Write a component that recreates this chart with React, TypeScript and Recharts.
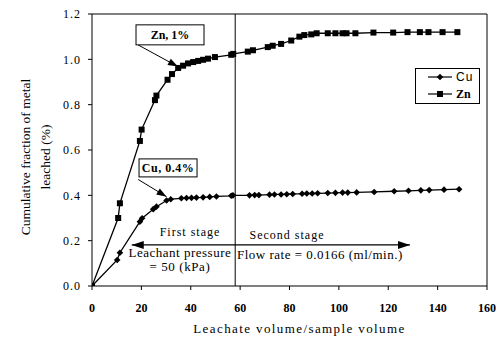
import React from 'react';
import {
  LineChart, Line, XAxis, YAxis, ReferenceLine, ReferenceDot, Legend,
} from 'recharts';

const FONT = '"Liberation Serif", "Times New Roman", serif';

const xTicks = [0, 20, 40, 60, 80, 100, 120, 140, 160];
const yTicks = [0, 0.2, 0.4, 0.6, 0.8, 1.0, 1.2];

const cuX = [0, 10.2, 11.3, 19.4, 20.3, 24.8, 26.1, 30.2, 31.9, 36.2, 38.3, 40.3, 42.3, 45, 47.7, 50.4, 56.4, 57.1, 63.8, 65.9, 67.6, 71.9, 73.9, 76.6, 78.9, 81.3, 85.1, 87, 89.2, 91.4, 95.5, 98.6, 101.5, 103.6, 107.2, 114.3, 122.4, 128.2, 133.2, 136.6, 142.6, 148.7];
const cuY = [0, 0.115, 0.147, 0.284, 0.299, 0.339, 0.35, 0.377, 0.383, 0.387, 0.388, 0.389, 0.39, 0.391, 0.393, 0.395, 0.398, 0.4, 0.4, 0.401, 0.401, 0.403, 0.404, 0.404, 0.405, 0.406, 0.407, 0.408, 0.408, 0.409, 0.41, 0.411, 0.412, 0.412, 0.413, 0.415, 0.418, 0.42, 0.422, 0.423, 0.425, 0.427];

const znX = [0, 10.6, 11.3, 19.4, 20.1, 25.5, 26.1, 30.6, 32.4, 34.9, 36.9, 38.9, 41, 43, 45, 47, 49.8, 56.4, 57.2, 63.1, 65.2, 71.2, 73.2, 76.6, 80.7, 84, 86, 88.8, 91, 95.5, 98.6, 101.5, 103.1, 106.7, 114, 122, 127.8, 132.8, 136.3, 142, 148];
const znY = [0, 0.3, 0.365, 0.64, 0.69, 0.82, 0.84, 0.91, 0.935, 0.962, 0.972, 0.982, 0.988, 0.993, 0.998, 1.003, 1.01, 1.02, 1.024, 1.034, 1.04, 1.054, 1.06, 1.068, 1.083, 1.1, 1.107, 1.11, 1.115, 1.115, 1.115, 1.115, 1.115, 1.115, 1.118, 1.118, 1.12, 1.12, 1.12, 1.12, 1.12];

const cuData = cuX.map((x, i) => ({ x, y: cuY[i] }));
const znData = znX.map((x, i) => ({ x, y: znY[i] }));

const stageLineX = 58;

const Diamond = (props: any) => {
  const { cx, cy } = props;
  if (cx == null || cy == null) return null;
  const r = 3.3;
  return <polygon points={`${cx},${cy - r} ${cx + r},${cy} ${cx},${cy + r} ${cx - r},${cy}`} fill="#000" />;
};

const Square = (props: any) => {
  const { cx, cy } = props;
  if (cx == null || cy == null) return null;
  return <rect x={cx - 3} y={cy - 3} width={6} height={6} fill="#000" />;
};

const arrowHead = (x1: number, y1: number, x2: number, y2: number, len = 10, half = 3.5) => {
  const a = Math.atan2(y2 - y1, x2 - x1);
  const bx = x2 - len * Math.cos(a);
  const by = y2 - len * Math.sin(a);
  const px = -Math.sin(a) * half;
  const py = Math.cos(a) * half;
  return `${x2},${y2} ${bx + px},${by + py} ${bx - px},${by - py}`;
};

const ArrowShape = (props: any) => {
  const { x1, y1, x2, y2 } = props;
  if ([x1, y1, x2, y2].some((v) => v == null || isNaN(v))) return null;
  return (
    <g>
      <line x1={x1} y1={y1} x2={x2} y2={y2} stroke="#000" strokeWidth={1} />
      <polygon points={arrowHead(x1, y1, x2, y2)} fill="#000" />
    </g>
  );
};

const DoubleArrowShape = (props: any) => {
  const { x1, y1, x2, y2 } = props;
  if ([x1, y1, x2, y2].some((v) => v == null || isNaN(v))) return null;
  return (
    <g>
      <line x1={x1} y1={y1} x2={x2} y2={y2} stroke="#000" strokeWidth={1.2} />
      <polygon points={arrowHead(x1, y1, x2, y2, 12, 4)} fill="#000" />
      <polygon points={arrowHead(x2, y2, x1, y1, 12, 4)} fill="#000" />
    </g>
  );
};

const boxLabel = (text: string, w: number, h: number, spacing = 0) => (props: any) => {
  const { cx, cy } = props;
  if (cx == null || cy == null) return null;
  return (
    <g>
      <rect x={cx - w / 2} y={cy - h / 2} width={w} height={h} fill="#fff" stroke="#000" strokeWidth={1} />
      <text x={cx} y={cy} textAnchor="middle" dominantBaseline="central" fontFamily={FONT}
        fontSize={12} fontWeight="bold" letterSpacing={spacing} fill="#000">{text}</text>
    </g>
  );
};

const textLabel = (text: string, opts: { bold?: boolean; spacing?: number; size?: number } = {}) => (props: any) => {
  const { cx, cy } = props;
  if (cx == null || cy == null) return null;
  return (
    <text x={cx} y={cy} textAnchor="middle" dominantBaseline="central" fontFamily={FONT}
      fontSize={opts.size ?? 12} fontWeight={opts.bold ? 'bold' : 'normal'}
      letterSpacing={opts.spacing ?? 0} fill="#000">{text}</text>
  );
};

const LegendContent = (props: any) => {
  const payload = props.payload || [];
  return (
    <div style={{ width: 65, height: 36, border: '1px solid #000', boxSizing: 'border-box', background: '#fff' }}>
      <svg width={63} height={34} style={{ display: 'block' }}>
        {payload.map((p: any, i: number) => {
          const y = 8 + i * 17;
          const isCu = p.value === 'Cu';
          return (
            <g key={p.value}>
              <line x1={12} y1={y} x2={36} y2={y} stroke="#000" strokeWidth={1.2} />
              {isCu ? <Diamond cx={24} cy={y} /> : <Square cx={24} cy={y} />}
              <text x={40} y={y} dominantBaseline="central"
                fontFamily={isCu ? '"Liberation Sans", Arial, sans-serif' : FONT}
                fontWeight={isCu ? 'normal' : 'bold'} letterSpacing={isCu ? 1 : 0}
                fontSize={12} fill="#000">{p.value}</text>
            </g>
          );
        })}
      </svg>
    </div>
  );
};

const YLabel = (props: any) => {
  const vb = props.viewBox || {};
  const cy = vb.y + vb.height / 2 + 7;
  const l1 = vb.x + 25;
  const l2 = vb.x + 45;
  return (
    <g fontFamily={FONT} fontSize={13.5} fill="#000">
      <text x={l1} y={cy} textAnchor="middle" dominantBaseline="central" transform={`rotate(-90, ${l1}, ${cy})`}>Cumulative fraction of metal</text>
      <text x={l2} y={cy} textAnchor="middle" dominantBaseline="central" transform={`rotate(-90, ${l2}, ${cy})`}>leached (%)</text>
    </g>
  );
};

const XLabel = (props: any) => {
  const vb = props.viewBox || {};
  return (
    <text x={vb.x + vb.width / 2 + 10} y={vb.y + 42} textAnchor="middle" dominantBaseline="central"
      fontFamily={FONT} fontSize={13} letterSpacing={1.4} fill="#000">Leachate volume/sample volume</text>
  );
};

export default function App() {
  return (
    <div style={{ position: 'absolute', left: 0, top: 0, background: '#fff' }}>
      <LineChart width={499} height={339} margin={{ top: 14, right: 12, left: 0, bottom: 3 }}>
        <XAxis type="number" dataKey="x" domain={[0, 160]} ticks={xTicks} allowDataOverflow
          height={50} stroke="#000" tickSize={4} tickMargin={13}
          tick={{ fontFamily: FONT, fontSize: 12, fontWeight: 'bold', fill: '#000' }}
          label={<XLabelWrap />} />
        <YAxis type="number" domain={[0, 1.2]} ticks={yTicks} allowDataOverflow width={92}
          stroke="#000" tickSize={4} tickMargin={7}
          tickFormatter={(v: number) => v.toFixed(1)}
          tick={{ fontFamily: FONT, fontSize: 12, fill: '#000', letterSpacing: 1 }}
          label={<YLabelWrap />} />
        <ReferenceLine y={1.2} stroke="#000" strokeWidth={1} />
        <ReferenceLine x={160} stroke="#000" strokeWidth={1} />
        <ReferenceLine x={stageLineX} stroke="#000" strokeWidth={1} />
        <Legend layout="horizontal" verticalAlign="middle" align="center"
          wrapperStyle={{ left: 415, top: 68, width: 65, height: 36 }}
          content={<LegendContent />} />
        <Line data={cuData} dataKey="y" name="Cu" stroke="#000" strokeWidth={1.3}
          dot={<Diamond />} activeDot={false} isAnimationActive={false} legendType="line" />
        <Line data={znData} dataKey="y" name="Zn" stroke="#000" strokeWidth={1.3}
          dot={<Square />} activeDot={false} isAnimationActive={false} legendType="square" />
        <ReferenceLine segment={[{ x: 18.6, y: 1.064 }, { x: 34.8, y: 0.968 }]} shape={ArrowShape} />
        <ReferenceLine segment={[{ x: 18.7, y: 0.47 }, { x: 30.2, y: 0.394 }]} shape={ArrowShape} />
        <ReferenceLine segment={[{ x: 16.1, y: 0.181 }, { x: 128.8, y: 0.181 }]} shape={DoubleArrowShape} />
        <ReferenceDot x={31.6} y={1.108} r={0} shape={boxLabel('Zn, 1%', 68, 20)} />
        <ReferenceDot x={30.8} y={0.521} r={0} shape={boxLabel('Cu, 0.4%', 58, 18, 0.5)} />
        <ReferenceDot x={39.7} y={0.238} r={0} shape={textLabel('First stage', { spacing: 1 })} />
        <ReferenceDot x={79} y={0.225} r={0} shape={textLabel('Second stage', { spacing: 1 })} />
        <ReferenceDot x={35.6} y={0.146} r={0} shape={textLabel('Leachant pressure', { size: 13, spacing: 0.5 })} />
        <ReferenceDot x={35.6} y={0.084} r={0} shape={textLabel('= 50 (kPa)', { size: 13, spacing: 0.6 })} />
        <ReferenceDot x={92.3} y={0.141} r={0} shape={textLabel('Flow rate = 0.0166 (ml/min.)', { size: 13, spacing: 0.5 })} />
      </LineChart>
    </div>
  );
}

function XLabelWrap(props: any) { return <XLabel {...props} />; }
function YLabelWrap(props: any) { return <YLabel {...props} />; }
